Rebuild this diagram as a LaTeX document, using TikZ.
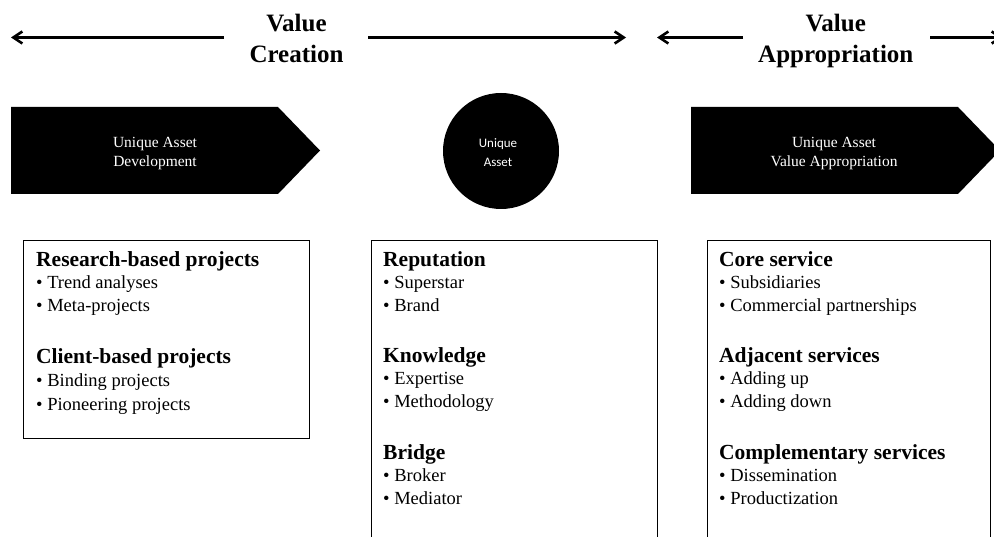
\documentclass[tikz,border=0pt]{standalone}
\usepackage{fontspec}
\setmainfont{Liberation Serif}
\newfontfamily\circfont{Carlito}
\usetikzlibrary{arrows.meta}
\begin{document}
\begin{tikzpicture}[x=1pt,y=-1pt,
  flow/.style={line width=2.6pt,-{Straight Barb[length=9pt,width=12pt,line width=2.6pt]}},
  titletext/.style={anchor=base, inner sep=0pt, font=\fontsize{25}{31}\selectfont\bfseries},
  banner/.style={fill=black},
  bannertext/.style={anchor=base, inner sep=0pt, text=white, font=\fontsize{15.5}{19}\selectfont},
  circtext/.style={anchor=base, inner sep=0pt, text=white, font=\circfont\fontsize{13}{19}\selectfont},
  listbox/.style={draw=black, line width=1.4pt, anchor=north west, inner sep=0pt},
  head/.style={anchor=base west, inner sep=0pt, font=\fontsize{21.5}{24}\selectfont\bfseries},
  item/.style={anchor=base west, inner sep=0pt, font=\fontsize{18.5}{22}\selectfont},
]
\useasboundingbox (0,0) rectangle (994,537);
\clip (0,0) rectangle (994,537);

% ---- phase titles and their arrows ----
\node[titletext] (vc1) at (296.5,31.7) {Value};
\node[titletext] (vc2) at (296.5,62.7) {Creation};
\node[titletext] (va1) at (835.8,31.7) {Value};
\node[titletext] (va2) at (835.8,62.7) {Appropriation};

\coordinate (vcL) at (224,37.5);  \coordinate (vcLt) at (11,37.5);
\coordinate (vcR) at (368,37.5);  \coordinate (vcRt) at (626,37.5);
\coordinate (vaL) at (743,37.5);  \coordinate (vaLt) at (657,37.5);
\coordinate (vaR) at (930,37.5);  \coordinate (vaRt) at (1003,37.5);
\draw[flow] (vcL) -- (vcLt);
\draw[flow] (vcR) -- (vcRt);
\draw[flow] (vaL) -- (vaLt);
\draw[flow] (vaR) -- (vaRt);

% ---- banners and the central asset ----
\fill[banner] (11,107) -- (278,107) -- (320,150.5) -- (278,194) -- (11,194) -- cycle;
\node[bannertext] (dev1) at (155,147.5) {Unique Asset};
\node[bannertext] (dev2) at (155,166.5) {Development};

\node[circle, fill=black, minimum size=116pt, inner sep=0pt] (asset) at (501,151) {};
\node[circtext] (as1) at (498,147.5) {Unique};
\node[circtext] (as2) at (498,166.5) {Asset};

\fill[banner] (691,107) -- (958,107) -- (1000,150.5) -- (958,194) -- (691,194) -- cycle;
\node[bannertext] (app1) at (834,147.5) {Unique Asset};
\node[bannertext] (app2) at (834,166.5) {Value Appropriation};

% ---- content boxes ----
\node[listbox, minimum width=286pt, minimum height=198pt] (boxA) at (23,240) {};
\node[listbox, minimum width=286pt, minimum height=330pt] (boxB) at (371,240) {};
\node[listbox, minimum width=283pt, minimum height=330pt] (boxC) at (707,240) {};

% development activities
\node[head] (a1) at (36,267) {Research-based projects};
\node[item] (a2) at (36,289) {\textbullet\ Trend analyses};
\node[item] (a3) at (36,312) {\textbullet\ Meta-projects};
\node[head] (a4) at (36,364) {Client-based projects};
\node[item] (a5) at (36,387) {\textbullet\ Binding projects};
\node[item] (a6) at (36,410) {\textbullet\ Pioneering projects};

% asset types
\node[head] (b1) at (383,267) {Reputation};
\node[item] (b2) at (383,289) {\textbullet\ Superstar};
\node[item] (b3) at (383,312) {\textbullet\ Brand};
\node[head] (b4) at (383,363) {Knowledge};
\node[item] (b5) at (383,385) {\textbullet\ Expertise};
\node[item] (b6) at (383,408) {\textbullet\ Methodology};
\node[head] (b7) at (383,459) {Bridge};
\node[item] (b8) at (383,481) {\textbullet\ Broker};
\node[item] (b9) at (383,504) {\textbullet\ Mediator};

% appropriation services
\node[head] (c1) at (719,267) {Core service};
\node[item] (c2) at (719,289) {\textbullet\ Subsidiaries};
\node[item] (c3) at (719,312) {\textbullet\ Commercial partnerships};
\node[head] (c4) at (719,363) {Adjacent services};
\node[item] (c5) at (719,385) {\textbullet\ Adding up};
\node[item] (c6) at (719,408) {\textbullet\ Adding down};
\node[head] (c7) at (719,459) {Complementary services};
\node[item] (c8) at (719,481) {\textbullet\ Dissemination};
\node[item] (c9) at (719,504) {\textbullet\ Productization};
\end{tikzpicture}
\end{document}
